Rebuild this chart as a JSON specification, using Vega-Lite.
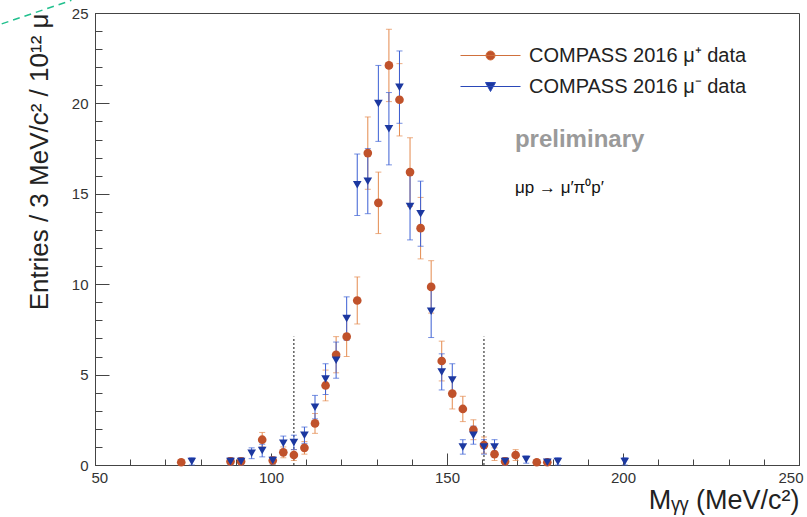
{
  "$schema": "https://vega.github.io/schema/vega-lite/v6.json",
  "width": 704,
  "height": 452,
  "autosize": {"type": "none"},
  "padding": {"left": 95, "top": 13, "right": 8, "bottom": 52},
  "background": "white",
  "config": {
    "font": "Liberation Sans",
    "view": {"stroke": "#444", "strokeWidth": 1},
    "axis": {"labelOverlap": false, "grid": false}
  },
  "resolve": {"axis": {"x": "independent", "y": "independent"}},
  "datasets": {
    "pts": [
      {"x": 74.5, "y": 0.15, "lo": 0, "hi": 0.3, "run": "mu+"},
      {"x": 88.5, "y": 0.2, "lo": 0, "hi": 0.4, "run": "mu+"},
      {"x": 91.5, "y": 0.2, "lo": 0, "hi": 0.4, "run": "mu+"},
      {"x": 97.5, "y": 1.4, "lo": 1.0, "hi": 1.8, "run": "mu+"},
      {"x": 100.5, "y": 0.25, "lo": 0.05, "hi": 0.45, "run": "mu+"},
      {"x": 103.5, "y": 0.7, "lo": 0.4, "hi": 1.0, "run": "mu+"},
      {"x": 106.5, "y": 0.55, "lo": 0.25, "hi": 0.85, "run": "mu+"},
      {"x": 109.5, "y": 0.95, "lo": 0.6, "hi": 1.3, "run": "mu+"},
      {"x": 112.5, "y": 2.3, "lo": 1.75, "hi": 2.85, "run": "mu+"},
      {"x": 115.5, "y": 4.4, "lo": 3.55, "hi": 5.25, "run": "mu+"},
      {"x": 118.5, "y": 6.1, "lo": 5.1, "hi": 7.1, "run": "mu+"},
      {"x": 121.5, "y": 7.1, "lo": 6.0, "hi": 8.2, "run": "mu+"},
      {"x": 124.5, "y": 9.1, "lo": 7.8, "hi": 10.4, "run": "mu+"},
      {"x": 127.5, "y": 17.25, "lo": 15.25, "hi": 19.25, "run": "mu+"},
      {"x": 130.5, "y": 14.5, "lo": 12.8, "hi": 16.2, "run": "mu+"},
      {"x": 133.5, "y": 22.1, "lo": 20.1, "hi": 24.1, "run": "mu+"},
      {"x": 136.5, "y": 20.2, "lo": 18.2, "hi": 22.2, "run": "mu+"},
      {"x": 139.5, "y": 16.2, "lo": 14.3, "hi": 18.1, "run": "mu+"},
      {"x": 142.5, "y": 13.1, "lo": 11.4, "hi": 14.8, "run": "mu+"},
      {"x": 145.5, "y": 9.85, "lo": 8.4, "hi": 11.3, "run": "mu+"},
      {"x": 148.5, "y": 5.75, "lo": 4.65, "hi": 6.85, "run": "mu+"},
      {"x": 151.5, "y": 3.95, "lo": 3.1, "hi": 4.8, "run": "mu+"},
      {"x": 154.5, "y": 3.1, "lo": 2.4, "hi": 3.8, "run": "mu+"},
      {"x": 157.5, "y": 1.95, "lo": 1.4, "hi": 2.5, "run": "mu+"},
      {"x": 160.5, "y": 1.1, "lo": 0.65, "hi": 1.55, "run": "mu+"},
      {"x": 163.5, "y": 0.6, "lo": 0.25, "hi": 0.95, "run": "mu+"},
      {"x": 166.5, "y": 0.2, "lo": 0, "hi": 0.4, "run": "mu+"},
      {"x": 169.5, "y": 0.55, "lo": 0.25, "hi": 0.85, "run": "mu+"},
      {"x": 175.5, "y": 0.15, "lo": 0, "hi": 0.3, "run": "mu+"},
      {"x": 178.5, "y": 0.15, "lo": 0, "hi": 0.3, "run": "mu+"},
      {"x": 77.5, "y": 0.2, "lo": 0, "hi": 0.4, "run": "mu-"},
      {"x": 88.5, "y": 0.2, "lo": 0, "hi": 0.4, "run": "mu-"},
      {"x": 91.5, "y": 0.2, "lo": 0, "hi": 0.4, "run": "mu-"},
      {"x": 94.5, "y": 0.65, "lo": 0.35, "hi": 0.95, "run": "mu-"},
      {"x": 97.5, "y": 0.8, "lo": 0.45, "hi": 1.15, "run": "mu-"},
      {"x": 100.5, "y": 0.25, "lo": 0.05, "hi": 0.45, "run": "mu-"},
      {"x": 103.5, "y": 1.2, "lo": 0.8, "hi": 1.6, "run": "mu-"},
      {"x": 106.5, "y": 1.25, "lo": 0.85, "hi": 1.65, "run": "mu-"},
      {"x": 109.5, "y": 1.65, "lo": 1.2, "hi": 2.1, "run": "mu-"},
      {"x": 112.5, "y": 3.2, "lo": 2.55, "hi": 3.85, "run": "mu-"},
      {"x": 115.5, "y": 4.75, "lo": 3.9, "hi": 5.6, "run": "mu-"},
      {"x": 118.5, "y": 5.8, "lo": 4.8, "hi": 6.8, "run": "mu-"},
      {"x": 121.5, "y": 8.1, "lo": 6.9, "hi": 9.3, "run": "mu-"},
      {"x": 124.5, "y": 15.5, "lo": 13.8, "hi": 17.2, "run": "mu-"},
      {"x": 127.5, "y": 15.7, "lo": 13.9, "hi": 17.5, "run": "mu-"},
      {"x": 130.5, "y": 20.0, "lo": 17.9, "hi": 22.1, "run": "mu-"},
      {"x": 133.5, "y": 18.6, "lo": 16.6, "hi": 20.6, "run": "mu-"},
      {"x": 136.5, "y": 20.9, "lo": 18.9, "hi": 22.9, "run": "mu-"},
      {"x": 139.5, "y": 14.3, "lo": 12.45, "hi": 16.15, "run": "mu-"},
      {"x": 142.5, "y": 13.9, "lo": 12.1, "hi": 15.7, "run": "mu-"},
      {"x": 145.5, "y": 8.5, "lo": 7.05, "hi": 9.95, "run": "mu-"},
      {"x": 148.5, "y": 5.15, "lo": 4.15, "hi": 6.15, "run": "mu-"},
      {"x": 151.5, "y": 4.7, "lo": 3.8, "hi": 5.6, "run": "mu-"},
      {"x": 154.5, "y": 1.0, "lo": 0.6, "hi": 1.4, "run": "mu-"},
      {"x": 157.5, "y": 1.65, "lo": 1.15, "hi": 2.15, "run": "mu-"},
      {"x": 160.5, "y": 1.0, "lo": 0.6, "hi": 1.4, "run": "mu-"},
      {"x": 163.5, "y": 1.0, "lo": 0.6, "hi": 1.4, "run": "mu-"},
      {"x": 166.5, "y": 0.2, "lo": 0, "hi": 0.4, "run": "mu-"},
      {"x": 172.5, "y": 0.3, "lo": 0.1, "hi": 0.5, "run": "mu-"},
      {"x": 178.5, "y": 0.15, "lo": 0, "hi": 0.3, "run": "mu-"},
      {"x": 181.5, "y": 0.2, "lo": 0, "hi": 0.4, "run": "mu-"},
      {"x": 200.5, "y": 0.2, "lo": 0, "hi": 0.4, "run": "mu-"}
    ],
    "cuts": [
      {"x": 106.5, "lo": 0, "hi": 7.1},
      {"x": 160.5, "lo": 0, "hi": 7.1}
    ],
    "deco": [
      {"x": 23.5, "y": 24.4},
      {"x": 43.3, "y": 25.7}
    ],
    "note1": [{"x": 169.3, "y": 18.0, "t": "preliminary"}],
    "note2": [{"x": 169.3, "y": 15.3, "t": "μp → μ′π⁰p′"}]
  },
  "layer": [
    {
      "data": {"name": "pts"},
      "mark": {"type": "point", "filled": true, "opacity": 0, "size": 75, "shape": "circle"},
      "encoding": {
        "x": {
          "field": "x", "type": "quantitative",
          "scale": {"domain": [50, 250], "nice": false, "zero": false},
          "axis": {
            "orient": "bottom", "title": null, "labels": false, "domain": true,
            "values": [50, 60, 70, 80, 90, 100, 110, 120, 130, 140, 150, 160, 170, 180, 190, 200, 210, 220, 230, 240, 250],
            "tickSize": -6, "tickColor": "#444", "domainColor": "#444", "grid": false
          }
        },
        "y": {
          "field": "y", "type": "quantitative",
          "scale": {"domain": [0, 25], "nice": false},
          "axis": {
            "orient": "left", "title": null, "labels": false, "domain": true,
            "values": [0, 1, 2, 3, 4, 5, 6, 7, 8, 9, 10, 11, 12, 13, 14, 15, 16, 17, 18, 19, 20, 21, 22, 23, 24, 25],
            "tickSize": -7, "tickColor": "#444", "domainColor": "#444", "grid": false
          }
        },
        "color": {
          "field": "run", "type": "nominal",
          "scale": {"domain": ["mu+", "mu-"], "range": ["#c0522b", "#1c38a0"]},
          "legend": {
            "orient": "none", "legendX": 375, "legendY": 22, "title": null,
            "labelExpr": "datum.value === 'mu+' ? 'COMPASS 2016 μ⁺ data' : 'COMPASS 2016 μ⁻ data'",
            "labelFontSize": 20, "labelColor": "#222", "labelLimit": 400, "labelOffset": 18,
            "symbolSize": 1600, "rowPadding": 0, "symbolStrokeWidth": 1, "symbolOpacity": 1,
            "symbolType": {"expr": "datum.value === 'mu+' ? 'M-1.5,0H-0.225A0.225,0.225,0,1,1,0.225,0H1.5M0.225,0A0.225,0.225,0,1,1,-0.225,0Z' : 'M-1.5,0H1.5M-0.25,-0.2L0.25,-0.2L0,0.25Z'"},
            "symbolStrokeColor": {"expr": "datum.value === 'mu+' ? '#d0703c' : '#2a48b8'"}
          }
        }
      }
    },
    {
      "data": {"name": "deco"},
      "mark": {"type": "line", "color": "#22c08e", "strokeWidth": 1.5, "strokeDash": [7, 5], "clip": false},
      "encoding": {
        "x": {"field": "x", "type": "quantitative", "scale": {"domain": [50, 250], "nice": false, "zero": false}, "axis": null},
        "y": {"field": "y", "type": "quantitative", "scale": {"domain": [0, 25], "nice": false}, "axis": null}
      }
    },
    {
      "data": {"name": "cuts"},
      "mark": {"type": "rule", "color": "#111", "strokeWidth": 1, "strokeDash": [2, 2]},
      "encoding": {
        "x": {"field": "x", "type": "quantitative", "scale": {"domain": [50, 250], "nice": false, "zero": false}, "axis": null},
        "y": {"field": "lo", "type": "quantitative", "scale": {"domain": [0, 25], "nice": false}, "axis": null},
        "y2": {"field": "hi"}
      }
    },
    {
      "data": {"name": "pts"},
      "transform": [{"filter": "datum.run === 'mu+'"}],
      "mark": {"type": "rule", "color": "#e48a4e", "strokeWidth": 1},
      "encoding": {
        "x": {"field": "x", "type": "quantitative", "scale": {"domain": [50, 250], "nice": false, "zero": false}, "axis": null},
        "y": {"field": "lo", "type": "quantitative", "scale": {"domain": [0, 25], "nice": false}, "axis": null},
        "y2": {"field": "hi"}
      }
    },
    {
      "data": {"name": "pts"},
      "transform": [{"filter": "datum.run === 'mu+'"}],
      "mark": {"type": "tick", "orient": "horizontal", "color": "#e48a4e", "size": 6, "thickness": 1},
      "encoding": {
        "x": {"field": "x", "type": "quantitative", "scale": {"domain": [50, 250], "nice": false, "zero": false}, "axis": null},
        "y": {"field": "hi", "type": "quantitative", "scale": {"domain": [0, 25], "nice": false}, "axis": null}
      }
    },
    {
      "data": {"name": "pts"},
      "transform": [{"filter": "datum.run === 'mu+'"}],
      "mark": {"type": "tick", "orient": "horizontal", "color": "#e48a4e", "size": 6, "thickness": 1},
      "encoding": {
        "x": {"field": "x", "type": "quantitative", "scale": {"domain": [50, 250], "nice": false, "zero": false}, "axis": null},
        "y": {"field": "lo", "type": "quantitative", "scale": {"domain": [0, 25], "nice": false}, "axis": null}
      }
    },
    {
      "data": {"name": "pts"},
      "transform": [{"filter": "datum.run === 'mu-'"}],
      "mark": {"type": "rule", "color": "#3b5fd4", "strokeWidth": 1},
      "encoding": {
        "x": {"field": "x", "type": "quantitative", "scale": {"domain": [50, 250], "nice": false, "zero": false}, "axis": null},
        "y": {"field": "lo", "type": "quantitative", "scale": {"domain": [0, 25], "nice": false}, "axis": null},
        "y2": {"field": "hi"}
      }
    },
    {
      "data": {"name": "pts"},
      "transform": [{"filter": "datum.run === 'mu-'"}],
      "mark": {"type": "tick", "orient": "horizontal", "color": "#3b5fd4", "size": 6, "thickness": 1},
      "encoding": {
        "x": {"field": "x", "type": "quantitative", "scale": {"domain": [50, 250], "nice": false, "zero": false}, "axis": null},
        "y": {"field": "hi", "type": "quantitative", "scale": {"domain": [0, 25], "nice": false}, "axis": null}
      }
    },
    {
      "data": {"name": "pts"},
      "transform": [{"filter": "datum.run === 'mu-'"}],
      "mark": {"type": "tick", "orient": "horizontal", "color": "#3b5fd4", "size": 6, "thickness": 1},
      "encoding": {
        "x": {"field": "x", "type": "quantitative", "scale": {"domain": [50, 250], "nice": false, "zero": false}, "axis": null},
        "y": {"field": "lo", "type": "quantitative", "scale": {"domain": [0, 25], "nice": false}, "axis": null}
      }
    },
    {
      "data": {"name": "pts"},
      "transform": [{"filter": "datum.run === 'mu+'"}],
      "mark": {"type": "point", "filled": true, "opacity": 1, "size": 75, "shape": "circle", "color": "#c0522b"},
      "encoding": {
        "x": {
          "field": "x", "type": "quantitative", "title": "Mᵧᵧ (MeV/c²)",
          "scale": {"domain": [50, 250], "nice": false, "zero": false},
          "axis": {
            "orient": "bottom",
            "values": [50, 100, 150, 200, 250],
            "tickSize": -12, "tickColor": "#444", "domainColor": "#444",
            "labelPadding": 17, "labelFontSize": 15, "labelColor": "#333",
            "labelFlush": true, "labelFlushOffset": 4, "labelOverlap": false, "grid": false,
            "titleAnchor": "end", "titleFontSize": 27,
            "titleFontWeight": "normal", "titleColor": "#222", "titlePadding": 2
          }
        },
        "y": {
          "field": "y", "type": "quantitative", "title": "Entries / 3 MeV/c² / 10¹² μ",
          "scale": {"domain": [0, 25], "nice": false},
          "axis": {
            "orient": "left",
            "values": [0, 5, 10, 15, 20, 25],
            "tickSize": -14, "tickColor": "#444", "domainColor": "#444",
            "labelPadding": 21, "labelFontSize": 15, "labelColor": "#333",
            "labelFlush": false, "labelOverlap": false, "grid": false,
            "titleAnchor": "end", "titleFontSize": 26,
            "titleFontWeight": "normal", "titleColor": "#222", "titlePadding": 19
          }
        }
      }
    },
    {
      "data": {"name": "pts"},
      "transform": [{"filter": "datum.run === 'mu-'"}],
      "mark": {"type": "point", "filled": true, "opacity": 1, "size": 75, "shape": "triangle-down", "color": "#1c38a0"},
      "encoding": {
        "x": {"field": "x", "type": "quantitative", "scale": {"domain": [50, 250], "nice": false, "zero": false}, "axis": null},
        "y": {"field": "y", "type": "quantitative", "scale": {"domain": [0, 25], "nice": false}, "axis": null}
      }
    },
    {
      "data": {"name": "note1"},
      "mark": {"type": "text", "align": "left", "baseline": "middle", "fontSize": 24, "fontWeight": "bold", "color": "#9a9a9a"},
      "encoding": {
        "x": {"field": "x", "type": "quantitative", "scale": {"domain": [50, 250], "nice": false, "zero": false}, "axis": null},
        "y": {"field": "y", "type": "quantitative", "scale": {"domain": [0, 25], "nice": false}, "axis": null},
        "text": {"field": "t"}
      }
    },
    {
      "data": {"name": "note2"},
      "mark": {"type": "text", "align": "left", "baseline": "middle", "fontSize": 17, "color": "#111"},
      "encoding": {
        "x": {"field": "x", "type": "quantitative", "scale": {"domain": [50, 250], "nice": false, "zero": false}, "axis": null},
        "y": {"field": "y", "type": "quantitative", "scale": {"domain": [0, 25], "nice": false}, "axis": null},
        "text": {"field": "t"}
      }
    }
  ]
}
